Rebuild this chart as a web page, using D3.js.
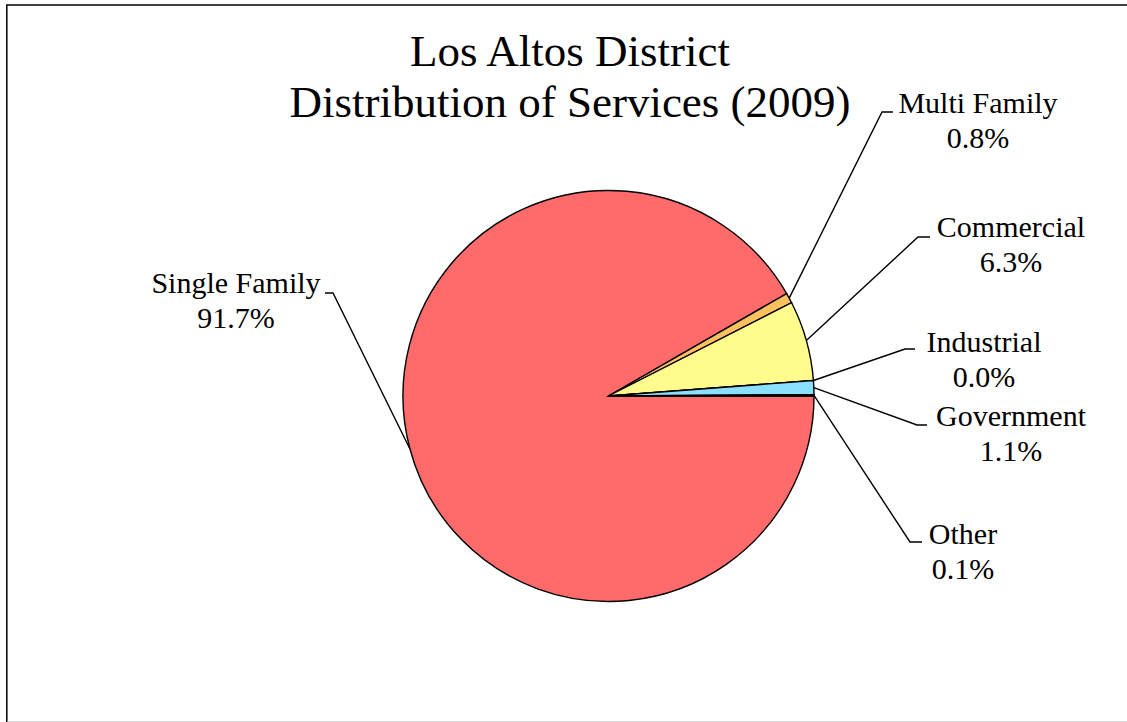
<!DOCTYPE html>
<html>
<head>
<meta charset="utf-8">
<script src="https://cdn.jsdelivr.net/npm/d3@7"></script>
<style>
  html, body { margin: 0; padding: 0; background: #fff; }
  svg { display: block; }
  text { font-family: "Liberation Serif", "Times New Roman", serif; fill: #000; }
</style>
</head>
<body>
<svg id="chart" width="1127" height="722"></svg>
<script>
// Service categories and their share of all services (percent)
const categories = ["Single Family", "Multi Family", "Commercial", "Industrial", "Government", "Other"];
const shares = [91.7, 0.8, 6.3, 0.0, 1.1, 0.1];
const sliceColors = ["#FF6B6B", "#FFC060", "#FFFB8C", "#FFFB8C", "#8CE0FF", "#FF6B6B"];
const titleLines = ["Los Altos District", "Distribution of Services (2009)"];

// Label placement: elbow of each leader line, end of its short stub, and text centre
const labelLayout = [
  { elbow: [333, 293], stub: [325, 293], cx: 236, base: 293 },
  { elbow: [882, 112], stub: [893, 112], cx: 978, base: 113 },
  { elbow: [918, 237], stub: [930, 237], cx: 1011, base: 237 },
  { elbow: [905, 349], stub: [915, 349], cx: 984, base: 352 },
  { elbow: [917, 425], stub: [927, 425], cx: 1011, base: 426 },
  { elbow: [910, 542], stub: [922, 542], cx: 963, base: 544 }
];

const svg = d3.select("#chart");
const W = 1127, H = 722;

// chart area frame (runs past the right/bottom edges)
svg.append("rect")
  .attr("x", 6.8).attr("y", 5).attr("width", 1300).attr("height", 900)
  .attr("fill", "#fff").attr("stroke", "#000").attr("stroke-width", 1.5);
svg.append("line")
  .attr("x1", 7.5).attr("x2", W).attr("y1", 721.5).attr("y2", 721.5)
  .attr("stroke", "#d9d9d9").attr("stroke-width", 1);

// title
const title = svg.append("text")
  .attr("text-anchor", "middle")
  .style("font-size", "45px");
titleLines.forEach((t, i) => {
  title.append("tspan").attr("x", 570).attr("y", 66 + i * 51).text(t);
});

// pie
const cx = 608.5, cy = 396, r = 205.5;
const data = categories.map((c, i) => ({ name: c, value: shares[i], color: sliceColors[i] }));
const pie = d3.pie()
  .sort(null)
  .value(d => d.value)
  .startAngle(Math.PI / 2)
  .endAngle(Math.PI / 2 + 2 * Math.PI);
const arcs = pie(data);
const arc = d3.arc().innerRadius(0).outerRadius(r);

const g = svg.append("g").attr("transform", `translate(${cx},${cy})`);
g.selectAll("path.slice")
  .data(arcs)
  .join("path")
  .attr("class", "slice")
  .attr("d", arc)
  .attr("fill", d => d.data.color)
  .attr("stroke", "#000")
  .attr("stroke-width", 1.4)
  .attr("stroke-linejoin", "miter");

// leader lines and labels
const fmt = d3.format(".1f");
arcs.forEach((a, i) => {
  const mid = (a.startAngle + a.endAngle) / 2;
  const p0 = [cx + r * Math.sin(mid), cy - r * Math.cos(mid)];
  const L = labelLayout[i];
  svg.append("polyline")
    .attr("points", [p0, L.elbow, L.stub].map(p => p.join(",")).join(" "))
    .attr("fill", "none")
    .attr("stroke", "#000")
    .attr("stroke-width", 1.4);
  const t = svg.append("text")
    .attr("text-anchor", "middle")
    .style("font-size", "30px");
  t.append("tspan").attr("x", L.cx).attr("y", L.base).text(a.data.name);
  t.append("tspan").attr("x", L.cx).attr("y", L.base + 34.5).text(fmt(a.data.value) + "%");
});
</script>
</body>
</html>
